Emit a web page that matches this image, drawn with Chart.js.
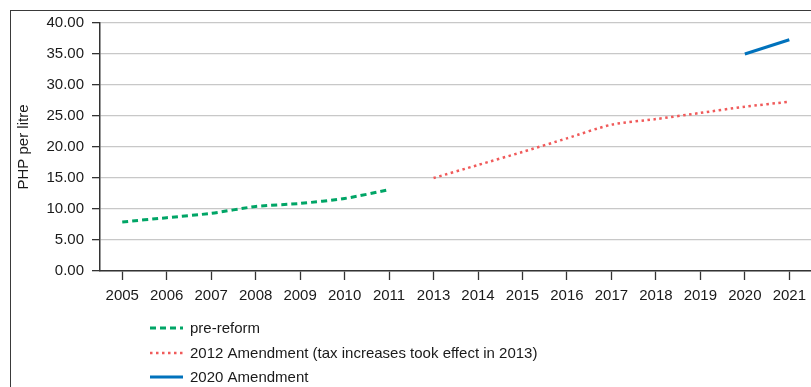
<!doctype html>
<html lang="en">
<head>
    <meta charset="utf-8">
    <title>PHP per litre</title>
    <script src="https://cdn.jsdelivr.net/npm/chart.js"></script>
    <style>
        html, body { margin: 0; padding: 0; background: #fff; overflow: hidden; }
        #frame { position: absolute; left: 10px; top: 10px; width: 900px; height: 500px; border: 1px solid #3a3a3a; }
        #wrap { position: absolute; left: 0; top: 0; width: 813px; height: 387px; }
    </style>
</head>
<body>
    <div id="frame"></div>
    <div id="wrap"><canvas id="chart"></canvas></div>

    <script>
        // data
        const years = ['2005', '2006', '2007', '2008', '2009', '2010', '2011',
            '2013', '2014', '2015', '2016', '2017', '2018', '2019', '2020', '2021'];
        const preReform = [7.9, 8.6, 9.3, 10.4, 10.9, 11.7, 13.1,
            null, null, null, null, null, null, null, null, null];
        const amend2012 = [null, null, null, null, null, null, null,
            15.0, 17.1, 19.2, 21.4, 23.6, 24.5, 25.5, 26.5, 27.3];
        const amend2020 = [null, null, null, null, null, null, null,
            null, null, null, null, null, null, null, 35.0, 37.3];
        const seriesNames = ['pre-reform', '2012 Amendment (tax increases took effect in 2013)', '2020 Amendment'];

        const FONT = "'Liberation Sans', Arial, sans-serif";
        const INK = '#1a1a1a';

        // legend stacked below the plot, one entry per line
        const stackedLegend = {
            id: 'stackedLegend',
            afterDraw(chart) {
                const ctx = chart.ctx;
                const rows = [328, 353, 377];
                ctx.save();
                chart.data.datasets.forEach((ds, i) => {
                    const y = rows[i];
                    ctx.beginPath();
                    ctx.setLineDash(ds.borderDash || []);
                    ctx.strokeStyle = ds.borderColor;
                    ctx.lineWidth = ds.borderWidth;
                    ctx.moveTo(150, y);
                    ctx.lineTo(183, y);
                    ctx.stroke();
                    ctx.setLineDash([]);
                    ctx.fillStyle = INK;
                    ctx.font = '15px ' + FONT;
                    ctx.textBaseline = 'middle';
                    ctx.fillText(ds.label, 190, y + 1);
                });
                ctx.restore();
            }
        };

        new Chart(document.getElementById('chart'), {
            type: 'line',
            data: {
                labels: years,
                datasets: [{
                    label: seriesNames[0],
                    data: preReform,
                    borderColor: '#00a566',
                    borderWidth: 3,
                    borderDash: [6, 4],
                    tension: 0.25,
                    pointRadius: 0
                }, {
                    label: seriesNames[1],
                    data: amend2012,
                    borderColor: '#f05a5a',
                    borderWidth: 2.5,
                    borderDash: [2.5, 3.5],
                    tension: 0.25,
                    pointRadius: 0
                }, {
                    label: seriesNames[2],
                    data: amend2020,
                    borderColor: '#0072bc',
                    borderWidth: 3,
                    pointRadius: 0
                }]
            },
            options: {
                responsive: true,
                maintainAspectRatio: false,
                animation: false,
                spanGaps: false,
                layout: { padding: { left: 12, top: 23, right: 0, bottom: 75 } },
                plugins: {
                    legend: { display: false },
                    tooltip: { enabled: false }
                },
                scales: {
                    x: {
                        offset: true,
                        border: { color: '#333', width: 1.5 },
                        grid: { drawOnChartArea: false, tickLength: 9, tickColor: '#333', tickWidth: 1.3 },
                        ticks: { color: INK, font: { family: FONT, size: 15 }, padding: 7, maxRotation: 0, autoSkip: false }
                    },
                    y: {
                        min: 0,
                        max: 40,
                        border: { color: '#333', width: 1.5 },
                        grid: { color: '#c8c8c8', lineWidth: 1.3, tickLength: 8, tickColor: '#333', tickWidth: 1.3 },
                        ticks: {
                            stepSize: 5,
                            color: INK,
                            font: { family: FONT, size: 15 },
                            padding: 8,
                            callback: v => v.toFixed(2)
                        },
                        title: {
                            display: true,
                            text: 'PHP per litre',
                            color: INK,
                            font: { family: FONT, size: 15 },
                            padding: { top: 3, bottom: 0 }
                        },
                        afterFit: scale => { scale.width = 88; }
                    }
                }
            },
            plugins: [stackedLegend]
        });
    </script>
</body>
</html>
